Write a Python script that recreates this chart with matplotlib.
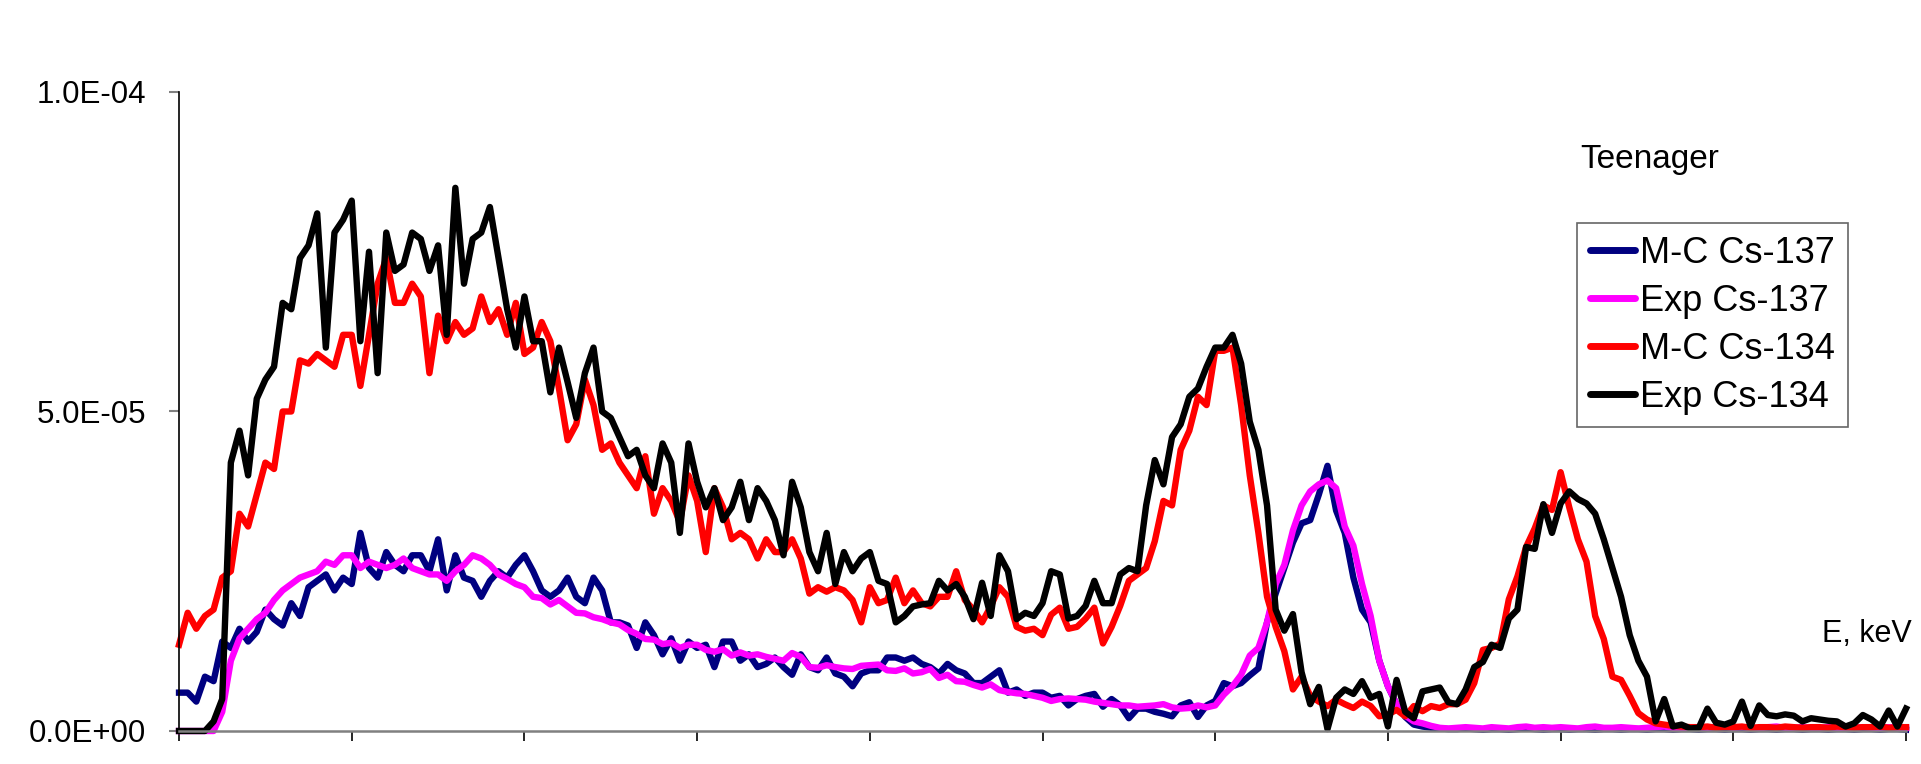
import numpy as np
import matplotlib
matplotlib.use("Agg")
import matplotlib.pyplot as plt
from matplotlib.ticker import FuncFormatter

plt.rcParams['font.family'] = ['Liberation Sans', 'DejaVu Sans']

# energy grid, keV (one reading every 5 keV)
energy = np.arange(0, 1001, 5)

# spectra, in units of 1e-6
mc_137 = [
    6, 6, 4.6, 8.5, 7.8, 14, 13, 16, 14, 15.5,
    19, 17.5, 16.5, 20, 18, 22.5, 23.5, 24.5, 22, 24,
    23, 31, 25.5, 24, 28, 26, 25, 27.5, 27.5, 25,
    30, 22, 27.5, 24, 23.5, 21, 23.5, 25, 24, 26,
    27.5, 25, 22, 21, 22, 24, 21, 20, 24, 22,
    17, 17, 16.5, 13, 17, 15, 12, 14.5, 11, 14,
    13, 13.5, 10, 14, 14, 11, 12, 10, 10.5, 11.5,
    10, 8.8, 12, 10, 9.5, 11.5, 9, 8.5, 7, 9,
    9.5, 9.5, 11.5, 11.5, 11, 11.5, 10.5, 10, 9, 10.5,
    9.5, 9, 7.5, 7.5, 8.5, 9.5, 6, 6.5, 5.5, 6,
    6, 5.2, 5.5, 4, 5, 5.5, 5.8, 3.8, 5, 4,
    2, 3.5, 3.5, 3, 2.7, 2.3, 4, 4.5, 2.2, 4,
    4.7, 7.5, 7, 7.5, 8.7, 9.8, 17, 21.5, 25.5, 29.5,
    32.5, 33, 37, 41.5, 34.5, 31, 24, 19, 17, 11,
    7, 4.2, 2.2, 1, 0.7, 0.5, 0.4, 0.3, 0.3, 0.4,
    0.3, 0.2, 0.3, 0.3, 0.2, 0.3, 0.4, 0.3, 0.2, 0.3,
    0.3, 0.2, 0.3, 0.3, 0.2, 0.3, 0.3, 0.2, 0.3, 0.3,
    0.2, 0.3, 0.3, 0.2, 0.3, 0.3, 0.2, 0.3, 0.3, 0.2,
    0.3, 0.3, 0.2, 0.3, 0.3, 0.2, 0.3, 0.3, 0.2, 0.3,
    0.3, 0.2, 0.3, 0.3, 0.2, 0.3, 0.3, 0.2, 0.3, 0.3,
    0.2,
]

exp_137 = [
    0, 0, 0, 0, 0, 3, 11, 14.5, 16, 17.5,
    18.5, 20.5, 22, 23, 24, 24.5, 25, 26.5, 26, 27.5,
    27.5, 25.5, 26.5, 26, 25.5, 26, 27, 25.5, 25, 24.5,
    24.5, 23.5, 25, 26, 27.5, 27, 26, 24.5, 23.8, 23,
    22.5, 21, 20.8, 19.8, 20.5, 19.5, 18.5, 18.4, 17.8, 17.5,
    17, 16.7, 15.8, 15.2, 14.4, 14.3, 13.6, 13.8, 13, 13.5,
    13.5, 12.7, 12.4, 12.8, 11.8, 12.3, 11.8, 12, 11.6, 11.3,
    11, 12.2, 11.6, 10, 9.9, 10.3, 10, 9.8, 9.7, 10.2,
    10.3, 10.4, 9.5, 9.4, 9.8, 9, 9.2, 9.7, 8.3, 8.8,
    7.8, 7.7, 7.2, 6.8, 7.3, 6.4, 6.1, 5.9, 5.8, 5.5,
    5.2, 4.7, 5, 5.1, 5, 4.9, 4.6, 4.4, 4.2, 4,
    4, 3.8, 3.9, 4, 4.2, 3.7, 3.5, 3.6, 4, 3.7,
    4, 5.7, 7, 8.8, 11.8, 13, 17, 23, 26, 31.4,
    35.3, 37.5, 38.6, 39.2, 38, 32, 29, 23, 18, 11,
    7, 4.2, 2.4, 1.5, 1.2, 0.8, 0.5, 0.4, 0.5, 0.6,
    0.5, 0.4, 0.6, 0.5, 0.4, 0.6, 0.7, 0.5, 0.6, 0.5,
    0.6, 0.5, 0.4, 0.6, 0.7, 0.5, 0.5, 0.6, 0.5, 0.4,
    0.5, 0.6, 0.7, 0.5, 0.4, 0.5, 0.6, 0.5, 0.6, 0.7,
    0.5, 0.6, 0.5, 0.4, 0.6, 0.7, 0.5, 0.5, 0.6, 0.5,
    0.5, 0.6, 0.5, 0.4, 0.5, 0.6, 0.5, 0.5, 0.6, 0.5,
    0.5,
]

mc_134 = [
    13.5, 18.5, 16, 18, 19, 24, 25, 34, 32, 37,
    42, 41, 50, 50, 58, 57.5, 59, 58, 57, 62,
    62, 54, 62, 70, 74, 67, 67, 70, 68, 56,
    65, 61, 64, 62, 63, 68, 64, 66, 62, 67,
    59, 60, 64, 61, 53.6, 45.5, 48, 55, 51, 44,
    45, 42, 40, 38, 43, 34, 38, 36, 32.7, 40,
    36, 28, 38, 35, 30, 31, 30, 27, 30, 28,
    28, 30, 27, 21.5, 22.5, 21.8, 22.5, 22, 20.5, 17,
    22.5, 20, 20.5, 24, 20, 22, 20, 19.5, 21, 21,
    25, 20.5, 19, 17, 19.5, 22.5, 21, 16.3, 15.7, 16,
    15, 18.2, 19.3, 16, 16.3, 17.6, 19.3, 13.7, 16.3, 19.6,
    23.5, 24.5, 25.5, 29.7, 36, 35.3, 44, 47, 52.3, 51,
    59.5, 59.5, 60, 51, 40, 31, 21, 16.3, 12.5, 6.5,
    8.5, 5.5, 4.6, 3.9, 4.9, 4.2, 3.6, 4.6, 3.9, 2.3,
    2.6, 3.3, 2.3, 3.9, 3.1, 3.9, 3.6, 4.2, 4.2, 4.9,
    7.5, 12.7, 13, 13.7, 20.6, 24.2, 28.8, 31.7, 35.3, 34.6,
    40.5, 35, 30, 26.5, 18, 14.4, 8.5, 8, 5.5, 2.8,
    1.8, 1.2, 1, 0.8, 0.7, 0.6, 0.6, 0.7, 0.5, 0.6,
    0.6, 0.7, 0.5, 0.6, 0.6, 0.5, 0.7, 0.6, 0.5, 0.6,
    0.6, 0.5, 0.7, 0.6, 0.5, 0.6, 0.6, 0.7, 0.5, 0.6,
    0.6,
]

exp_134 = [
    0, 0, 0, 0, 1.5, 5, 42, 47, 40, 52,
    55, 57, 67, 66, 74, 76, 81, 60, 78, 80,
    83, 61, 75, 56, 78, 72, 73, 78, 77, 72,
    76, 62, 85, 70, 77, 78, 82, 74, 66, 60,
    68, 61, 61, 53, 60, 54.6, 49, 56, 60, 50,
    49, 46, 43, 44, 40, 38, 45, 42, 31, 45,
    39, 35, 38, 33, 35, 39, 33, 38, 36, 33,
    27.5, 39, 35, 28, 25, 31, 23, 28, 25, 27,
    28, 23.5, 23, 17, 18, 19.5, 19.8, 20, 23.5, 22,
    23, 21, 17.5, 23.2, 18, 27.5, 25, 17.5, 18.5, 18,
    20, 25, 24.5, 17.6, 18, 19.6, 23.5, 20, 20, 24.5,
    25.5, 25, 35.3, 42.4, 38.6, 46, 48, 52.3, 53.6, 57,
    60, 60, 62, 57.5, 48.4, 44, 35.3, 19, 15.7, 18.3,
    9.2, 4.2, 6.9, 0.3, 5.2, 6.5, 5.8, 7.8, 5.2, 5.8,
    0.7, 8, 3, 2, 6.2, 6.5, 6.8, 4.5, 4.2, 6.5,
    10, 10.8, 13.5, 13, 17.6, 19, 28.8, 28.5, 35.5, 31,
    35.6, 37.5, 36.3, 35.6, 34, 30, 25.5, 21, 15, 11,
    8.5, 1.5, 5, 0.7, 1, 0.4, 0.5, 3.5, 1.3, 1,
    1.5, 4.6, 0.8, 4, 2.5, 2.3, 2.6, 2.4, 1.5, 2,
    1.8, 1.6, 1.5, 0.7, 1.2, 2.5, 1.8, 0.7, 3.2, 0.7,
    3.5,
]

series = [
    ('M-C Cs-137', mc_137, '#000080'),
    ('Exp Cs-137', exp_137, '#FF00FF'),
    ('M-C Cs-134', mc_134, '#FF0000'),
    ('Exp Cs-134', exp_134, '#000000'),
]

fig = plt.figure(figsize=(19.21, 7.64), dpi=100)
ax = fig.add_axes([0.0932, 0.0432, 0.899, 0.8364])

for name, vals, color in series:
    ax.plot(energy, np.array(vals) * 1e-6, color=color, lw=4.6,
            label=name, clip_on=False, solid_joinstyle='round')

ax.set_xlim(0, 1000)
ax.set_ylim(0, 1e-4)

ax.spines['top'].set_visible(False)
ax.spines['right'].set_visible(False)
ax.spines['left'].set_color('black')
ax.spines['left'].set_linewidth(1.2)
ax.spines['bottom'].set_color('#808080')
ax.spines['bottom'].set_linewidth(1.8)

ax.set_yticks([0, 5e-5, 1e-4])
ax.yaxis.set_major_formatter(FuncFormatter(lambda v, pos: '{:.1E}'.format(v)))
ax.tick_params(axis='y', direction='out', length=7.5, width=1.5,
               color='#808080', labelsize=22.5, pad=16)
ax.set_xticks(np.arange(0, 1001, 100))
ax.tick_params(axis='x', direction='out', length=7.5, width=1.2,
               color='black', labelbottom=False)

fig.text(0.8225, 0.7915, 'Teenager', fontsize=24, va='center', ha='left')
fig.text(0.9953, 1 - 634 / 764, 'E, keV', fontsize=22, va='center', ha='right')

leg = fig.legend(loc='upper left', bbox_to_anchor=(1577 / 1921, 1 - 223 / 764),
                 bbox_transform=fig.transFigure, fontsize=26, frameon=True,
                 fancybox=False, borderaxespad=0, borderpad=0.35,
                 handlelength=1.25, handletextpad=0.15, labelspacing=0.36)
leg.get_frame().set_edgecolor('#404040')
leg.get_frame().set_linewidth(1.2)
for line in leg.get_lines():
    line.set_linewidth(5)
    line.set_solid_capstyle('round')

plt.savefig('out.png', dpi=100)
